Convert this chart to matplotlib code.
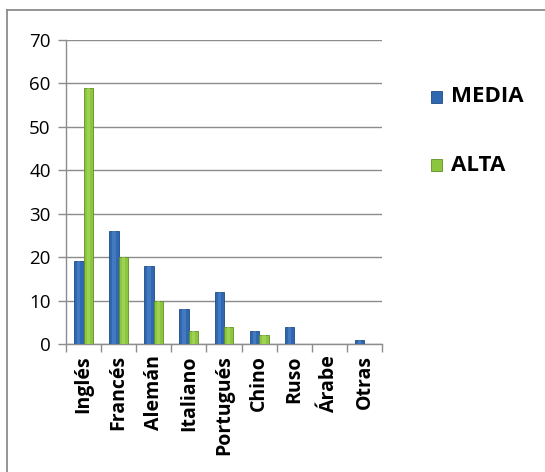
import matplotlib
matplotlib.use("Agg")
import matplotlib.pyplot as plt
import numpy as np
from matplotlib.lines import Line2D
from matplotlib.patches import Rectangle

categories = ["Inglés", "Francés", "Alemán", "Italiano", "Portugués", "Chino", "Ruso", "Árabe", "Otras"]
media = [19, 26, 18, 8, 12, 3, 4, 0, 1]
alta = [59, 20, 10, 3, 4, 2, 0, 0, 0]
series_names = ["MEDIA", "ALTA"]
yticks = [0, 10, 20, 30, 40, 50, 60, 70]

plt.rcParams["font.family"] = ["Open Sans", "DejaVu Sans"]

W, H = 545, 472
fig = plt.figure(figsize=(W / 100, H / 100), dpi=100)
ax = fig.add_axes([66 / W, 1 - 344 / H, (382 - 66) / W, (344 - 40) / H])

blue, blue_edge, blue_hi = "#2f67b0", "#1d4a85", "#5b8fd4"
green, green_edge, green_hi = "#8cc63e", "#5f8f22", "#b5e070"

x = np.arange(len(categories))
bw = 0.27
for vals, off, c, ec, hi in [(media, -bw / 2, blue, blue_edge, blue_hi),
                             (alta, bw / 2, green, green_edge, green_hi)]:
    ax.bar(x + off, vals, width=bw, color=c, edgecolor=ec, linewidth=0.6, zorder=3)
    ax.bar(x + off, vals, width=bw * 0.35, color=hi, alpha=0.45, linewidth=0, zorder=4)

ax.set_xlim(-0.5, len(categories) - 0.5)
ax.set_ylim(0, 70)
ax.set_yticks(yticks)
ax.set_yticklabels([str(t) for t in yticks], fontsize=13.5)
ax.yaxis.grid(True, color="#8c8c8c", linewidth=1.0, zorder=0)
ax.tick_params(axis="y", length=6, color="#8c8c8c", width=1.0, pad=5)
ax.set_xticks(np.arange(len(categories) + 1) - 0.5)
ax.set_xticklabels([])
ax.tick_params(axis="x", length=6, color="#8c8c8c", width=1.0)
for s in ["top", "right"]:
    ax.spines[s].set_visible(False)
for s in ["left", "bottom"]:
    ax.spines[s].set_color("#8c8c8c")
    ax.spines[s].set_linewidth(1.0)

for i, name in enumerate(categories):
    ax.text(i, -2.6, name, rotation=90, ha="center", va="top", fontsize=14,
            fontweight="bold", transform=ax.transData, clip_on=False)

# legend
for name, c, ec, yc in [(series_names[0], blue, blue_edge, 97), (series_names[1], green, green_edge, 165)]:
    fig.patches.append(Rectangle((431 / W, 1 - (yc + 5.5) / H), 11 / W, 11 / H,
                                 transform=fig.transFigure, facecolor=c, edgecolor=ec, linewidth=0.6))
    fig.text(451 / W, 1 - yc / H, name, fontsize=16, fontweight="bold", va="center", ha="left")

# chart frame (top and left edges)
fig.add_artist(Line2D([7 / W, 1.0], [1 - 10 / H, 1 - 10 / H], color="#8c8c8c", linewidth=1.3,
                      transform=fig.transFigure))
fig.add_artist(Line2D([7 / W, 7 / W], [0.0, 1 - 10 / H], color="#8c8c8c", linewidth=1.3,
                      transform=fig.transFigure))

fig.savefig("out.png", dpi=100)
